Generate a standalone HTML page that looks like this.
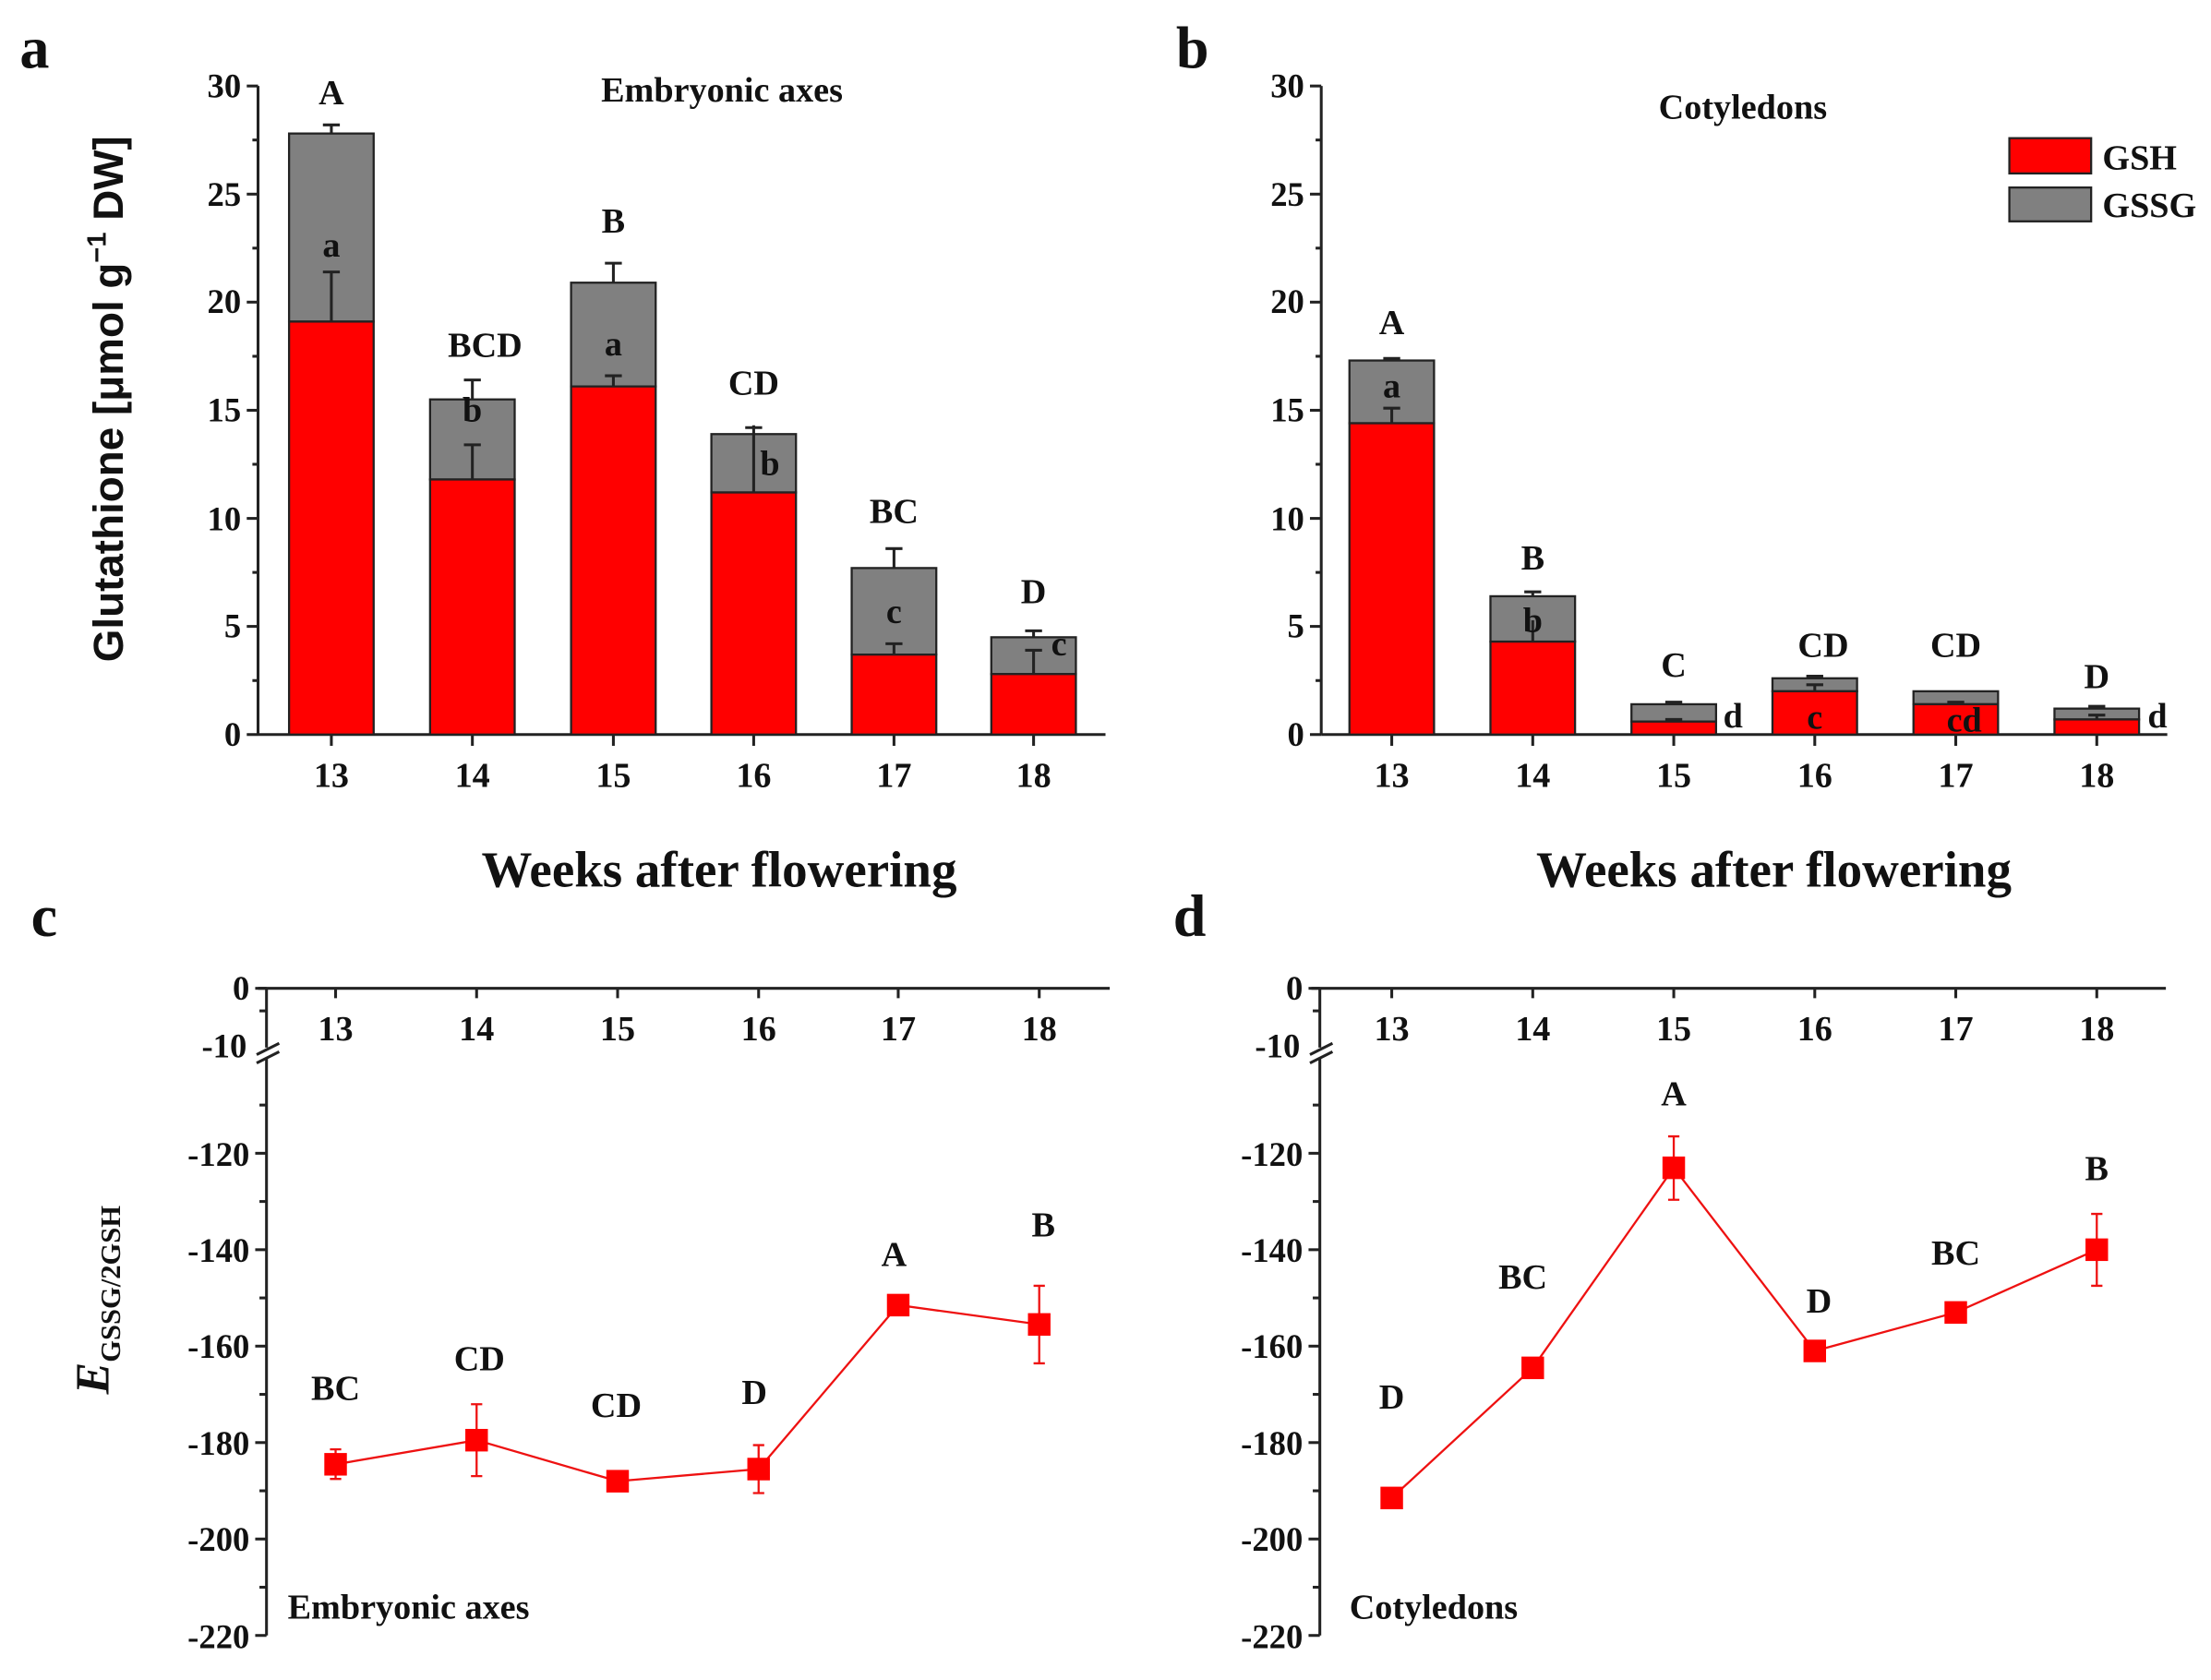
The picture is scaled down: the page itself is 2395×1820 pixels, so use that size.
<!DOCTYPE html>
<html><head><meta charset="utf-8"><style>
html,body{margin:0;padding:0;background:#fff;}
svg{display:block;}
text{font-family:"Liberation Serif",serif;font-weight:bold;fill:#111;}
</style></head><body>
<svg width="2395" height="1820" viewBox="0 0 1568 1191.6" preserveAspectRatio="none" xmlns="http://www.w3.org/2000/svg">
<text x="14" y="48" font-size="42">a</text>
<text x="834" y="48" font-size="42">b</text>
<text x="22" y="664" font-size="42">c</text>
<text x="832" y="664" font-size="42">d</text>

<!-- ===== Panel a ===== -->
<g stroke="#222" stroke-width="2" fill="none">
<line x1="183" y1="61" x2="183" y2="521"/>
<line x1="183" y1="521" x2="784" y2="521"/>
</g>
<g stroke="#222" stroke-width="2">
<line x1="175" y1="521" x2="183" y2="521"/><line x1="175" y1="444.3" x2="183" y2="444.3"/><line x1="175" y1="367.7" x2="183" y2="367.7"/><line x1="175" y1="291" x2="183" y2="291"/><line x1="175" y1="214.3" x2="183" y2="214.3"/><line x1="175" y1="137.7" x2="183" y2="137.7"/><line x1="175" y1="61" x2="183" y2="61"/>
<line x1="179" y1="482.7" x2="183" y2="482.7"/><line x1="179" y1="406" x2="183" y2="406"/><line x1="179" y1="329.3" x2="183" y2="329.3"/><line x1="179" y1="252.7" x2="183" y2="252.7"/><line x1="179" y1="176" x2="183" y2="176"/><line x1="179" y1="99.3" x2="183" y2="99.3"/>
<line x1="235" y1="521" x2="235" y2="529"/><line x1="335" y1="521" x2="335" y2="529"/><line x1="435" y1="521" x2="435" y2="529"/><line x1="534.5" y1="521" x2="534.5" y2="529"/><line x1="634" y1="521" x2="634" y2="529"/><line x1="733" y1="521" x2="733" y2="529"/>
</g>
<g font-size="24" text-anchor="end">
<text x="171" y="529">0</text><text x="171" y="452">5</text><text x="171" y="376">10</text><text x="171" y="299">15</text><text x="171" y="222">20</text><text x="171" y="146">25</text><text x="171" y="69">30</text>
</g>
<g font-size="25" text-anchor="middle">
<text x="235" y="558">13</text><text x="335" y="558">14</text><text x="435" y="558">15</text><text x="534.5" y="558">16</text><text x="634" y="558">17</text><text x="733" y="558">18</text>
</g>
<g stroke="#222" stroke-width="1.5">
<rect x="205" y="94.7" width="60" height="133.4" fill="#808080"/><rect x="205" y="228.1" width="60" height="292.9" fill="#ff0000"/>
<rect x="305" y="283.3" width="60" height="56.8" fill="#808080"/><rect x="305" y="340.1" width="60" height="180.9" fill="#ff0000"/>
<rect x="405" y="200.5" width="60" height="73.6" fill="#808080"/><rect x="405" y="274.1" width="60" height="246.9" fill="#ff0000"/>
<rect x="504.5" y="307.9" width="60" height="41.4" fill="#808080"/><rect x="504.5" y="349.3" width="60" height="171.7" fill="#ff0000"/>
<rect x="604" y="402.9" width="60" height="61.4" fill="#808080"/><rect x="604" y="464.3" width="60" height="56.7" fill="#ff0000"/>
<rect x="703" y="452" width="60" height="26.1" fill="#808080"/><rect x="703" y="478.1" width="60" height="42.9" fill="#ff0000"/>
</g>
<g stroke="#222" stroke-width="2" fill="none">
<path d="M235 94.7V88.6M229 88.6H241M235 228.1V192.9M229 192.9H241"/>
<path d="M335 283.3V269.5M329 269.5H341M335 340.1V315.5M329 315.5H341"/>
<path d="M435 200.5V186.7M429 186.7H441M435 274.1V266.5M429 266.5H441"/>
<path d="M534.5 307.9V303.3M528.5 303.3H540.5M534.5 349.3V301.7"/>
<path d="M634 402.9V389.1M628 389.1H640M634 464.3V456.6M628 456.6H640"/>
<path d="M733 452V447.4M727 447.4H739M733 478.1V461.2M727 461.2H739"/>
</g>
<g font-size="25" text-anchor="middle">
<text x="235" y="74">A</text><text x="344" y="253">BCD</text><text x="435" y="165">B</text><text x="534.5" y="280">CD</text><text x="634" y="371">BC</text><text x="733" y="428">D</text>
<text x="235" y="182">a</text><text x="335" y="299">b</text><text x="435" y="252">a</text><text x="546" y="337">b</text><text x="634" y="442">c</text><text x="751" y="465">c</text>
</g>
<text x="512" y="72" font-size="25" text-anchor="middle">Embryonic axes</text>
<text transform="translate(87,283) rotate(-90)" font-size="30" text-anchor="middle" style="font-family:'Liberation Sans',sans-serif">Glutathione [μmol g<tspan dy="-12" font-size="19">−1</tspan><tspan dy="12"> DW]</tspan></text>
<text x="510" y="629" font-size="36" text-anchor="middle">Weeks after flowering</text>

<!-- ===== Panel b ===== -->
<g stroke="#222" stroke-width="2" fill="none">
<line x1="937" y1="61" x2="937" y2="521"/>
<line x1="937" y1="521" x2="1537" y2="521"/>
</g>
<g stroke="#222" stroke-width="2">
<line x1="929" y1="521" x2="937" y2="521"/><line x1="929" y1="444.3" x2="937" y2="444.3"/><line x1="929" y1="367.7" x2="937" y2="367.7"/><line x1="929" y1="291" x2="937" y2="291"/><line x1="929" y1="214.3" x2="937" y2="214.3"/><line x1="929" y1="137.7" x2="937" y2="137.7"/><line x1="929" y1="61" x2="937" y2="61"/>
<line x1="933" y1="482.7" x2="937" y2="482.7"/><line x1="933" y1="406" x2="937" y2="406"/><line x1="933" y1="329.3" x2="937" y2="329.3"/><line x1="933" y1="252.7" x2="937" y2="252.7"/><line x1="933" y1="176" x2="937" y2="176"/><line x1="933" y1="99.3" x2="937" y2="99.3"/>
<line x1="987" y1="521" x2="987" y2="529"/><line x1="1087" y1="521" x2="1087" y2="529"/><line x1="1187" y1="521" x2="1187" y2="529"/><line x1="1287" y1="521" x2="1287" y2="529"/><line x1="1387" y1="521" x2="1387" y2="529"/><line x1="1487" y1="521" x2="1487" y2="529"/>
</g>
<g font-size="24" text-anchor="end">
<text x="925" y="529">0</text><text x="925" y="452">5</text><text x="925" y="376">10</text><text x="925" y="299">15</text><text x="925" y="222">20</text><text x="925" y="146">25</text><text x="925" y="69">30</text>
</g>
<g font-size="25" text-anchor="middle">
<text x="987" y="558">13</text><text x="1087" y="558">14</text><text x="1187" y="558">15</text><text x="1287" y="558">16</text><text x="1387" y="558">17</text><text x="1487" y="558">18</text>
</g>
<g stroke="#222" stroke-width="1.5">
<rect x="957" y="255.7" width="60" height="44.5" fill="#808080"/><rect x="957" y="300.2" width="60" height="220.8" fill="#ff0000"/>
<rect x="1057" y="422.9" width="60" height="32.2" fill="#808080"/><rect x="1057" y="455.1" width="60" height="65.9" fill="#ff0000"/>
<rect x="1157" y="499.5" width="60" height="12.3" fill="#808080"/><rect x="1157" y="511.8" width="60" height="9.2" fill="#ff0000"/>
<rect x="1257" y="481.1" width="60" height="9.2" fill="#808080"/><rect x="1257" y="490.3" width="60" height="30.7" fill="#ff0000"/>
<rect x="1357" y="490.3" width="60" height="9.2" fill="#808080"/><rect x="1357" y="499.5" width="60" height="21.5" fill="#ff0000"/>
<rect x="1457" y="502.6" width="60" height="7.7" fill="#808080"/><rect x="1457" y="510.3" width="60" height="10.7" fill="#ff0000"/>
</g>
<g stroke="#222" stroke-width="2" fill="none">
<path d="M987 255.7V254.2M981 254.2H993M987 300.2V289.5M981 289.5H993"/>
<path d="M1087 422.9V419.8M1081 419.8H1093M1087 455.1V440"/>
<path d="M1187 499.5V498M1181 498H1193M1187 511.8V510.3M1181 510.3H1193"/>
<path d="M1287 481.1V479.6M1281 479.6H1293M1287 490.3V485.7M1281 485.7H1293"/>
<path d="M1387 499.5V498M1381 498H1393"/>
<path d="M1487 502.6V501M1481 501H1493M1487 510.3V507.2M1481 507.2H1493"/>
</g>
<g font-size="25" text-anchor="middle">
<text x="987" y="237">A</text><text x="1087" y="404">B</text><text x="1187" y="480">C</text><text x="1293" y="466">CD</text><text x="1387" y="466">CD</text><text x="1487" y="488">D</text>
<text x="987" y="282">a</text><text x="1087" y="448">b</text><text x="1229" y="516">d</text><text x="1287" y="517">c</text><text x="1393" y="519">cd</text><text x="1530" y="516">d</text>
</g>
<text x="1236" y="84" font-size="25" text-anchor="middle">Cotyledons</text>
<rect x="1425" y="98" width="58" height="25" fill="#ff0000" stroke="#222" stroke-width="1.5"/>
<rect x="1425" y="133" width="58" height="24" fill="#808080" stroke="#222" stroke-width="1.5"/>
<text x="1491" y="120" font-size="25">GSH</text>
<text x="1491" y="154" font-size="25">GSSG</text>
<text x="1258" y="629" font-size="36" text-anchor="middle">Weeks after flowering</text>

<!-- ===== Panel c ===== -->
<g stroke="#222" stroke-width="2" fill="none">
<line x1="183" y1="701" x2="787" y2="701"/>
<line x1="189" y1="701" x2="189" y2="743"/>
<line x1="189" y1="751" x2="189" y2="1160"/>
<line x1="182" y1="748" x2="198" y2="740"/>
<line x1="182" y1="754" x2="198" y2="746"/>
</g>
<g stroke="#222" stroke-width="2">
<line x1="181" y1="701" x2="189" y2="701"/><line x1="184" y1="717" x2="189" y2="717"/>
<line x1="184" y1="783.8" x2="189" y2="783.8"/><line x1="181" y1="818" x2="189" y2="818"/><line x1="184" y1="852.2" x2="189" y2="852.2"/><line x1="181" y1="886.4" x2="189" y2="886.4"/><line x1="184" y1="920.6" x2="189" y2="920.6"/><line x1="181" y1="954.8" x2="189" y2="954.8"/><line x1="184" y1="989" x2="189" y2="989"/><line x1="181" y1="1023.2" x2="189" y2="1023.2"/><line x1="184" y1="1057.4" x2="189" y2="1057.4"/><line x1="181" y1="1091.6" x2="189" y2="1091.6"/><line x1="184" y1="1125.8" x2="189" y2="1125.8"/><line x1="181" y1="1160" x2="189" y2="1160"/>
<line x1="238" y1="701" x2="238" y2="708"/><line x1="338" y1="701" x2="338" y2="708"/><line x1="438" y1="701" x2="438" y2="708"/><line x1="538" y1="701" x2="538" y2="708"/><line x1="637" y1="701" x2="637" y2="708"/><line x1="737" y1="701" x2="737" y2="708"/>
</g>
<g font-size="24" text-anchor="end">
<text x="177" y="709">0</text><text x="175" y="750">-10</text><text x="177" y="827">-120</text><text x="177" y="895">-140</text><text x="177" y="963">-160</text><text x="177" y="1032">-180</text><text x="177" y="1100">-200</text><text x="177" y="1169">-220</text>
</g>
<g font-size="25" text-anchor="middle">
<text x="238" y="738">13</text><text x="338" y="738">14</text><text x="438" y="738">15</text><text x="538" y="738">16</text><text x="637" y="738">17</text><text x="737" y="738">18</text>
</g>
<polyline points="238,1038.6 338,1021.5 438,1050.6 538,1042 637,925.7 737,939.4" fill="none" stroke="#ee1111" stroke-width="1.5"/>
<g stroke="#ee1111" stroke-width="1.5" fill="none">
<path d="M238 1028V1049M234 1028H242M234 1049H242"/>
<path d="M338 996V1047M334 996H342M334 1047H342"/>
<path d="M538 1025V1059M534 1025H542M534 1059H542"/>
<path d="M737 912V967M733 912H741M733 967H741"/>
</g>
<g fill="#ff0000">
<rect x="230" y="1030.6" width="16" height="16"/><rect x="330" y="1013.5" width="16" height="16"/><rect x="430" y="1042.6" width="16" height="16"/><rect x="530" y="1034" width="16" height="16"/><rect x="629" y="917.7" width="16" height="16"/><rect x="729" y="931.4" width="16" height="16"/>
</g>
<g font-size="25" text-anchor="middle">
<text x="238" y="993">BC</text><text x="340" y="972">CD</text><text x="437" y="1005">CD</text><text x="535" y="996">D</text><text x="634" y="898">A</text><text x="740" y="877">B</text>
</g>
<text x="204" y="1148" font-size="25">Embryonic axes</text>
<text transform="translate(77,922) rotate(-90)" font-size="34" text-anchor="middle"><tspan font-style="italic">E</tspan><tspan font-size="20" dy="8">GSSG/2GSH</tspan></text>

<!-- ===== Panel d ===== -->
<g stroke="#222" stroke-width="2" fill="none">
<line x1="930" y1="701" x2="1536" y2="701"/>
<line x1="936" y1="701" x2="936" y2="743"/>
<line x1="936" y1="751" x2="936" y2="1160"/>
<line x1="929" y1="748" x2="945" y2="740"/>
<line x1="929" y1="754" x2="945" y2="746"/>
</g>
<g stroke="#222" stroke-width="2">
<line x1="928" y1="701" x2="936" y2="701"/><line x1="931" y1="717" x2="936" y2="717"/>
<line x1="931" y1="783.8" x2="936" y2="783.8"/><line x1="928" y1="818" x2="936" y2="818"/><line x1="931" y1="852.2" x2="936" y2="852.2"/><line x1="928" y1="886.4" x2="936" y2="886.4"/><line x1="931" y1="920.6" x2="936" y2="920.6"/><line x1="928" y1="954.8" x2="936" y2="954.8"/><line x1="931" y1="989" x2="936" y2="989"/><line x1="928" y1="1023.2" x2="936" y2="1023.2"/><line x1="931" y1="1057.4" x2="936" y2="1057.4"/><line x1="928" y1="1091.6" x2="936" y2="1091.6"/><line x1="931" y1="1125.8" x2="936" y2="1125.8"/><line x1="928" y1="1160" x2="936" y2="1160"/>
<line x1="987" y1="701" x2="987" y2="708"/><line x1="1087" y1="701" x2="1087" y2="708"/><line x1="1187" y1="701" x2="1187" y2="708"/><line x1="1287" y1="701" x2="1287" y2="708"/><line x1="1387" y1="701" x2="1387" y2="708"/><line x1="1487" y1="701" x2="1487" y2="708"/>
</g>
<g font-size="24" text-anchor="end">
<text x="924" y="709">0</text><text x="922" y="750">-10</text><text x="924" y="827">-120</text><text x="924" y="895">-140</text><text x="924" y="963">-160</text><text x="924" y="1032">-180</text><text x="924" y="1100">-200</text><text x="924" y="1169">-220</text>
</g>
<g font-size="25" text-anchor="middle">
<text x="987" y="738">13</text><text x="1087" y="738">14</text><text x="1187" y="738">15</text><text x="1287" y="738">16</text><text x="1387" y="738">17</text><text x="1487" y="738">18</text>
</g>
<polyline points="987,1062.5 1087,970.2 1187,828.3 1287,958.2 1387,930.9 1487,886.4" fill="none" stroke="#ee1111" stroke-width="1.5"/>
<g stroke="#ee1111" stroke-width="1.5" fill="none">
<path d="M1187 806V851M1183 806H1191M1183 851H1191"/>
<path d="M1487 861V912M1483 861H1491M1483 912H1491"/>
</g>
<g fill="#ff0000">
<rect x="979" y="1054.5" width="16" height="16"/><rect x="1079" y="962.2" width="16" height="16"/><rect x="1179" y="820.3" width="16" height="16"/><rect x="1279" y="950.2" width="16" height="16"/><rect x="1379" y="922.9" width="16" height="16"/><rect x="1479" y="878.4" width="16" height="16"/>
</g>
<g font-size="25" text-anchor="middle">
<text x="987" y="999">D</text><text x="1080" y="914">BC</text><text x="1187" y="784">A</text><text x="1290" y="931">D</text><text x="1387" y="897">BC</text><text x="1487" y="837">B</text>
</g>
<text x="957" y="1148" font-size="25">Cotyledons</text>
</svg>
</body></html>
